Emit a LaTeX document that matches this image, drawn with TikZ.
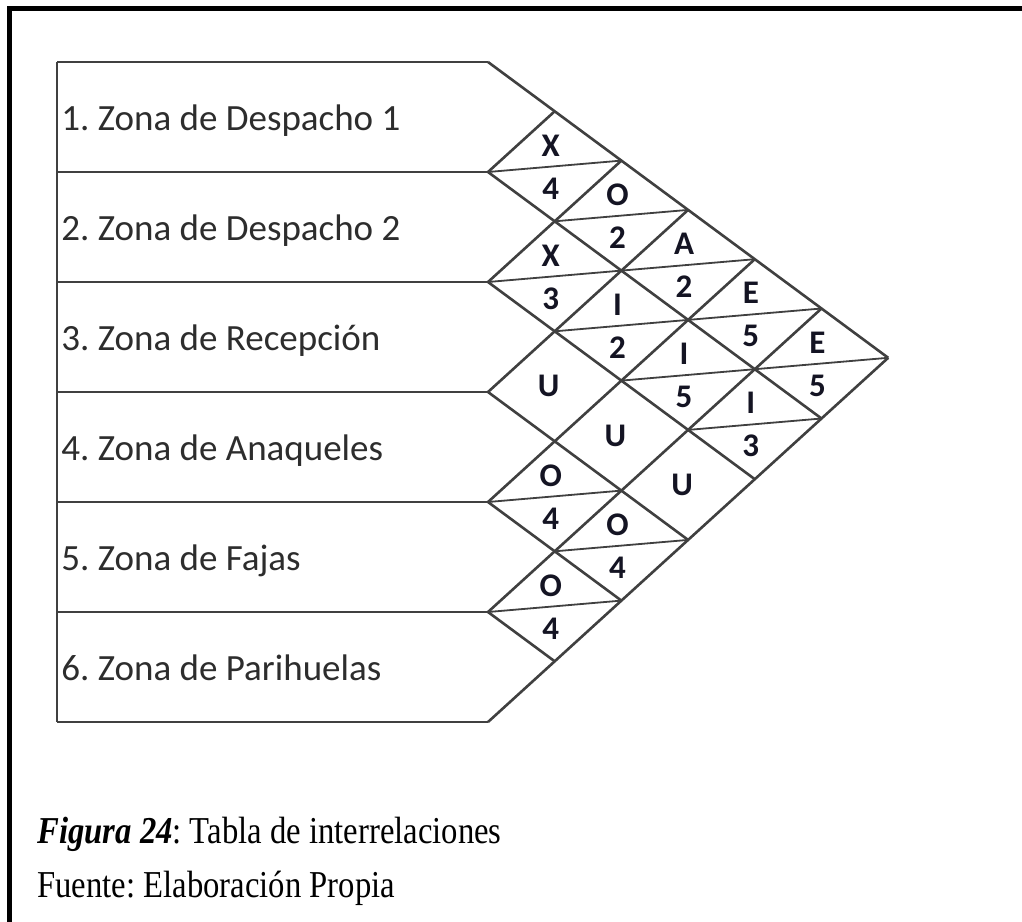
\documentclass[tikz,border=0pt]{standalone}
\usepackage{fontspec}
\setmainfont{Liberation Serif}[FakeStretch=0.86]
\newfontfamily\zonefont{Carlito}
\usetikzlibrary{positioning,calc}
\definecolor{gridcolor}{RGB}{64,64,64}
\definecolor{zonetext}{RGB}{45,45,45}
\definecolor{codetext}{RGB}{20,20,35}
\def\rowh{110}
\def\xedge{488}
\def\xleft{57}
\frenchspacing
\tikzset{
  gridline/.style  = {draw=gridcolor, line width=1.3pt},
  divline/.style   = {draw=gridcolor, line width=0.9pt},
  frameline/.style = {draw=black, line width=2.5pt},
  zonelabel/.style = {anchor=base west, inner sep=0pt, text=zonetext,
                      font=\zonefont\fontsize{18.5}{22}\selectfont},
  relcode/.style   = {inner sep=0pt, text=codetext,
                      font=\zonefont\bfseries\fontsize{16.5}{19}\selectfont},
  captext/.style   = {anchor=base west, inner sep=0pt,
                      font=\fontsize{19}{22}\selectfont}
}

\begin{document}
\begin{tikzpicture}[x=0.5pt,y=-0.5pt]
\useasboundingbox (0,0) rectangle (1022,921);
\fill[white] (-20,-20) rectangle (1042,941);

% --- frame (top and left edges) ---
\draw[frameline] (9.5,941) -- (9.5,8.5) -- (1042,8.5);

% --- zone names ---
\foreach \name [count=\i] in {1. Zona de Despacho 1, 2. Zona de Despacho 2,
    3. Zona de Recepción, 4. Zona de Anaqueles, 5. Zona de Fajas,
    6. Zona de Parihuelas}{
  \node[zonelabel] (z\i) at (61, {62 + (\i-0.5)*\rowh + 13}) {\name};
}

% --- relationship lattice: x runs down-right, y runs up-right ---
\begin{scope}[shift={(\xedge,172)}, x={(33.35pt,-24.65pt)}, y={(33.35pt,30.35pt)}]
  % row corners on the lattice
  \foreach \i in {0,...,6}
    \coordinate (b\i) at (\i-1,1-\i);
  % down-right strokes
  \foreach \i in {0,...,5}
    \draw[gridline] (b\i) -- (5,1-\i);
  % up-right strokes
  \foreach \k in {0,...,5}
    \draw[gridline] (b\the\numexpr\k+1\relax) -- (\k,1);

  % --- rating over reason ---
  \foreach \i/\j/\rate/\why in {1/2/X/4, 1/3/O/2, 1/4/A/2, 1/5/E/5, 1/6/E/5,
                                2/3/X/3, 2/4/I/2, 2/5/I/5, 2/6/I/3,
                                4/5/O/4, 4/6/O/4, 5/6/O/4}{
    \draw[divline] (\j-2,1-\i) -- (\j-1,2-\i);
    \node[relcode, yshift=10.5pt, xshift=-2pt] (r\i\j) at (\j-1.5,1.5-\i) {\rate};
    \node[relcode, yshift=-11pt, xshift=-2pt] (n\i\j) at (\j-1.5,1.5-\i) {\why};
  }
  % --- rating only ---
  \foreach \j in {4,5,6}
    \node[relcode, xshift=-3pt] (r3\j) at (\j-1.5,-1.5) {U};
\end{scope}

% --- row boxes ---
\foreach \i in {0,...,6}
  \draw[gridline] (\xleft,{62+\i*\rowh}) -- (b\i);
\draw[gridline] (\xleft,62) -- (\xleft,{62+6*\rowh});

% --- caption ---
\node[captext] (cap) at (37,843) {\textbf{\textit{Figura 24}}: Tabla de interrelaciones};
\node[captext] (src) at (37,897) {Fuente: Elaboración Propia};

\end{tikzpicture}
\end{document}
